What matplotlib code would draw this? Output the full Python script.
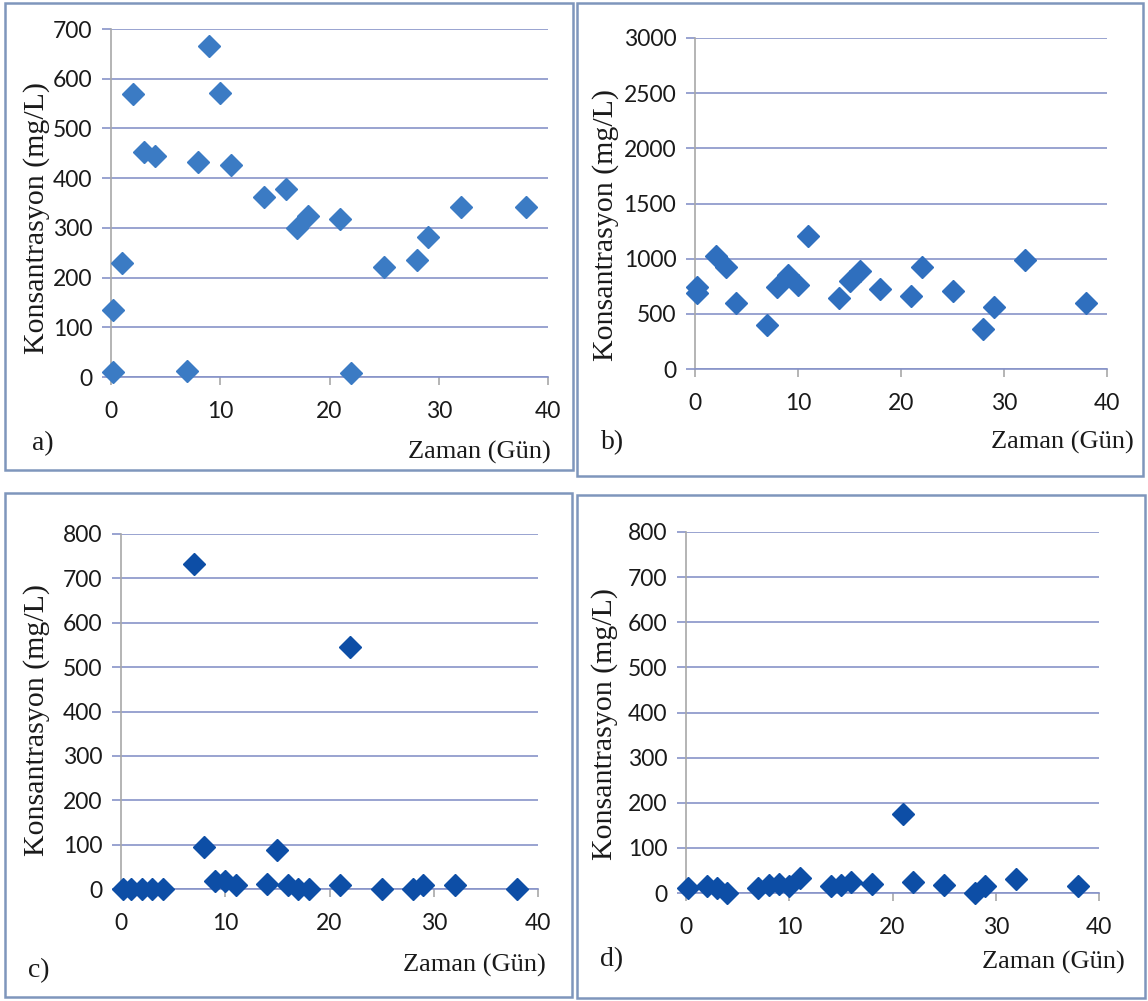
import matplotlib
matplotlib.use('Agg')
import matplotlib.pyplot as plt
from matplotlib.patches import Rectangle

# data (days, mg/L)
a_days = [0.2, 0.2, 1, 2, 3, 4, 7, 8, 9, 10, 11, 14, 16, 17, 18, 21, 22, 25, 28, 29, 32, 38]
a_conc = [135, 10, 230, 570, 452, 445, 12, 432, 665, 572, 427, 363, 378, 300, 323, 318, 8, 222, 235, 282, 342, 342]

b_days = [0.2, 0.2, 2, 3, 4, 7, 8, 9, 10, 11, 14, 15, 16, 18, 21, 22, 25, 28, 29, 32, 38]
b_conc = [745, 690, 1020, 925, 597, 395, 742, 853, 763, 1205, 642, 795, 885, 728, 663, 920, 705, 360, 561, 990, 597]

c_days = [0.2, 1, 2, 3, 4, 7, 8, 9, 10, 11, 14, 15, 16, 17, 18, 21, 22, 25, 28, 29, 32, 38]
c_conc = [0, 0, 0, 0, 0, 732, 94, 19, 19, 10, 11, 87, 8, 0, 0, 8, 545, 0, 0, 10, 8, 0]

d_days = [0.2, 2, 3, 4, 7, 8, 9, 10, 11, 14, 15, 16, 18, 21, 22, 25, 28, 29, 32, 38]
d_conc = [12, 15, 11, 0, 11, 18, 20, 15, 33, 15, 18, 24, 20, 174, 24, 17, 0, 15, 30, 15]

x_ticks = [0, 10, 20, 30, 40]
y_max = [700, 3000, 800, 800]
y_step = [100, 500, 100, 100]
panel_labels = ['a)', 'b)', 'c)', 'd)']

W, H = 1148, 1001
fig = plt.figure(figsize=(W / 100, H / 100), dpi=100)
fig.patch.set_facecolor('white')

def fx(x):
    return x / W

def fy(y):
    return 1 - y / H

# panel boxes (left, top, right, bottom) in pixels
boxes = [(5, 3, 573, 470), (577, 3, 1143, 476), (5, 493, 572, 997), (577, 495, 1145, 998)]
# plot areas (x0, x40, y0, ytop) in pixels
areas = [(111, 548, 377, 29), (695, 1107, 369, 38), (121, 538, 889, 534), (686, 1099, 893, 532)]
ylab_pos = [(37, 218), (606, 225), (37, 720), (605, 724)]
xlab_pos = [(479, 452), (1062, 442), (474, 965), (1053, 962)]
letter_pos = [(43, 444), (613, 443), (39, 971), (612, 960)]
marker_col = ['#3b7bc4', '#2f6fbe', '#0d4ea6', '#0d4ea6']

series = [(a_days, a_conc), (b_days, b_conc), (c_days, c_conc), (d_days, d_conc)]

grid_col = '#8793c8'
for i in range(4):
    l, t, r, b = boxes[i]
    fig.patches.append(Rectangle((fx(l), fy(b)), fx(r - l), (b - t) / H, transform=fig.transFigure,
                                 fill=False, edgecolor='#7f96bc', lw=1.8))
    x0, x1, y0, y1 = areas[i]
    ax = fig.add_axes([fx(x0), fy(y0), fx(x1 - x0), (y0 - y1) / H])
    days, conc = series[i]
    ax.plot(days, conc, linestyle='none', marker='D', ms=11.5, color=marker_col[i],
            markeredgecolor=marker_col[i], clip_on=False, zorder=5)
    ax.set_xlim(0, 40)
    ax.set_ylim(0, y_max[i])
    ax.set_xticks(x_ticks)
    ax.set_yticks(range(0, y_max[i] + 1, y_step[i]))
    ax.grid(axis='y', color=grid_col, lw=1.2)
    ax.set_axisbelow(True)
    for s in ['top', 'right']:
        ax.spines[s].set_visible(False)
    ax.spines['left'].set_color('#a8a8a8')
    ax.spines['bottom'].set_color(grid_col)
    ax.spines['left'].set_linewidth(1.2)
    ax.spines['bottom'].set_linewidth(1.2)
    ax.tick_params(axis='y', length=6.5, color=grid_col, width=1.2, pad=7)
    ax.tick_params(axis='x', length=6, color='#a8a8a8', width=1.2, pad=11)
    for lab in ax.get_xticklabels() + ax.get_yticklabels():
        lab.set_fontfamily('Lato')
        lab.set_fontsize(16.5)
        lab.set_color('#1a1a1a')
    fig.text(fx(ylab_pos[i][0]), fy(ylab_pos[i][1]), 'Konsantrasyon (mg/L)', rotation=90,
             ha='center', va='center', family='Liberation Serif', fontsize=21.5,
             color='#1a1a1a')
    fig.text(fx(xlab_pos[i][0]), fy(xlab_pos[i][1]), 'Zaman (Gün)', ha='center', va='center',
             family='Liberation Serif', fontsize=19, color='#1a1a1a')
    fig.text(fx(letter_pos[i][0]), fy(letter_pos[i][1]), panel_labels[i], ha='center', va='center',
             family='Liberation Serif', fontsize=20, color='#1a1a1a')

fig.savefig('out.png', dpi=100)
